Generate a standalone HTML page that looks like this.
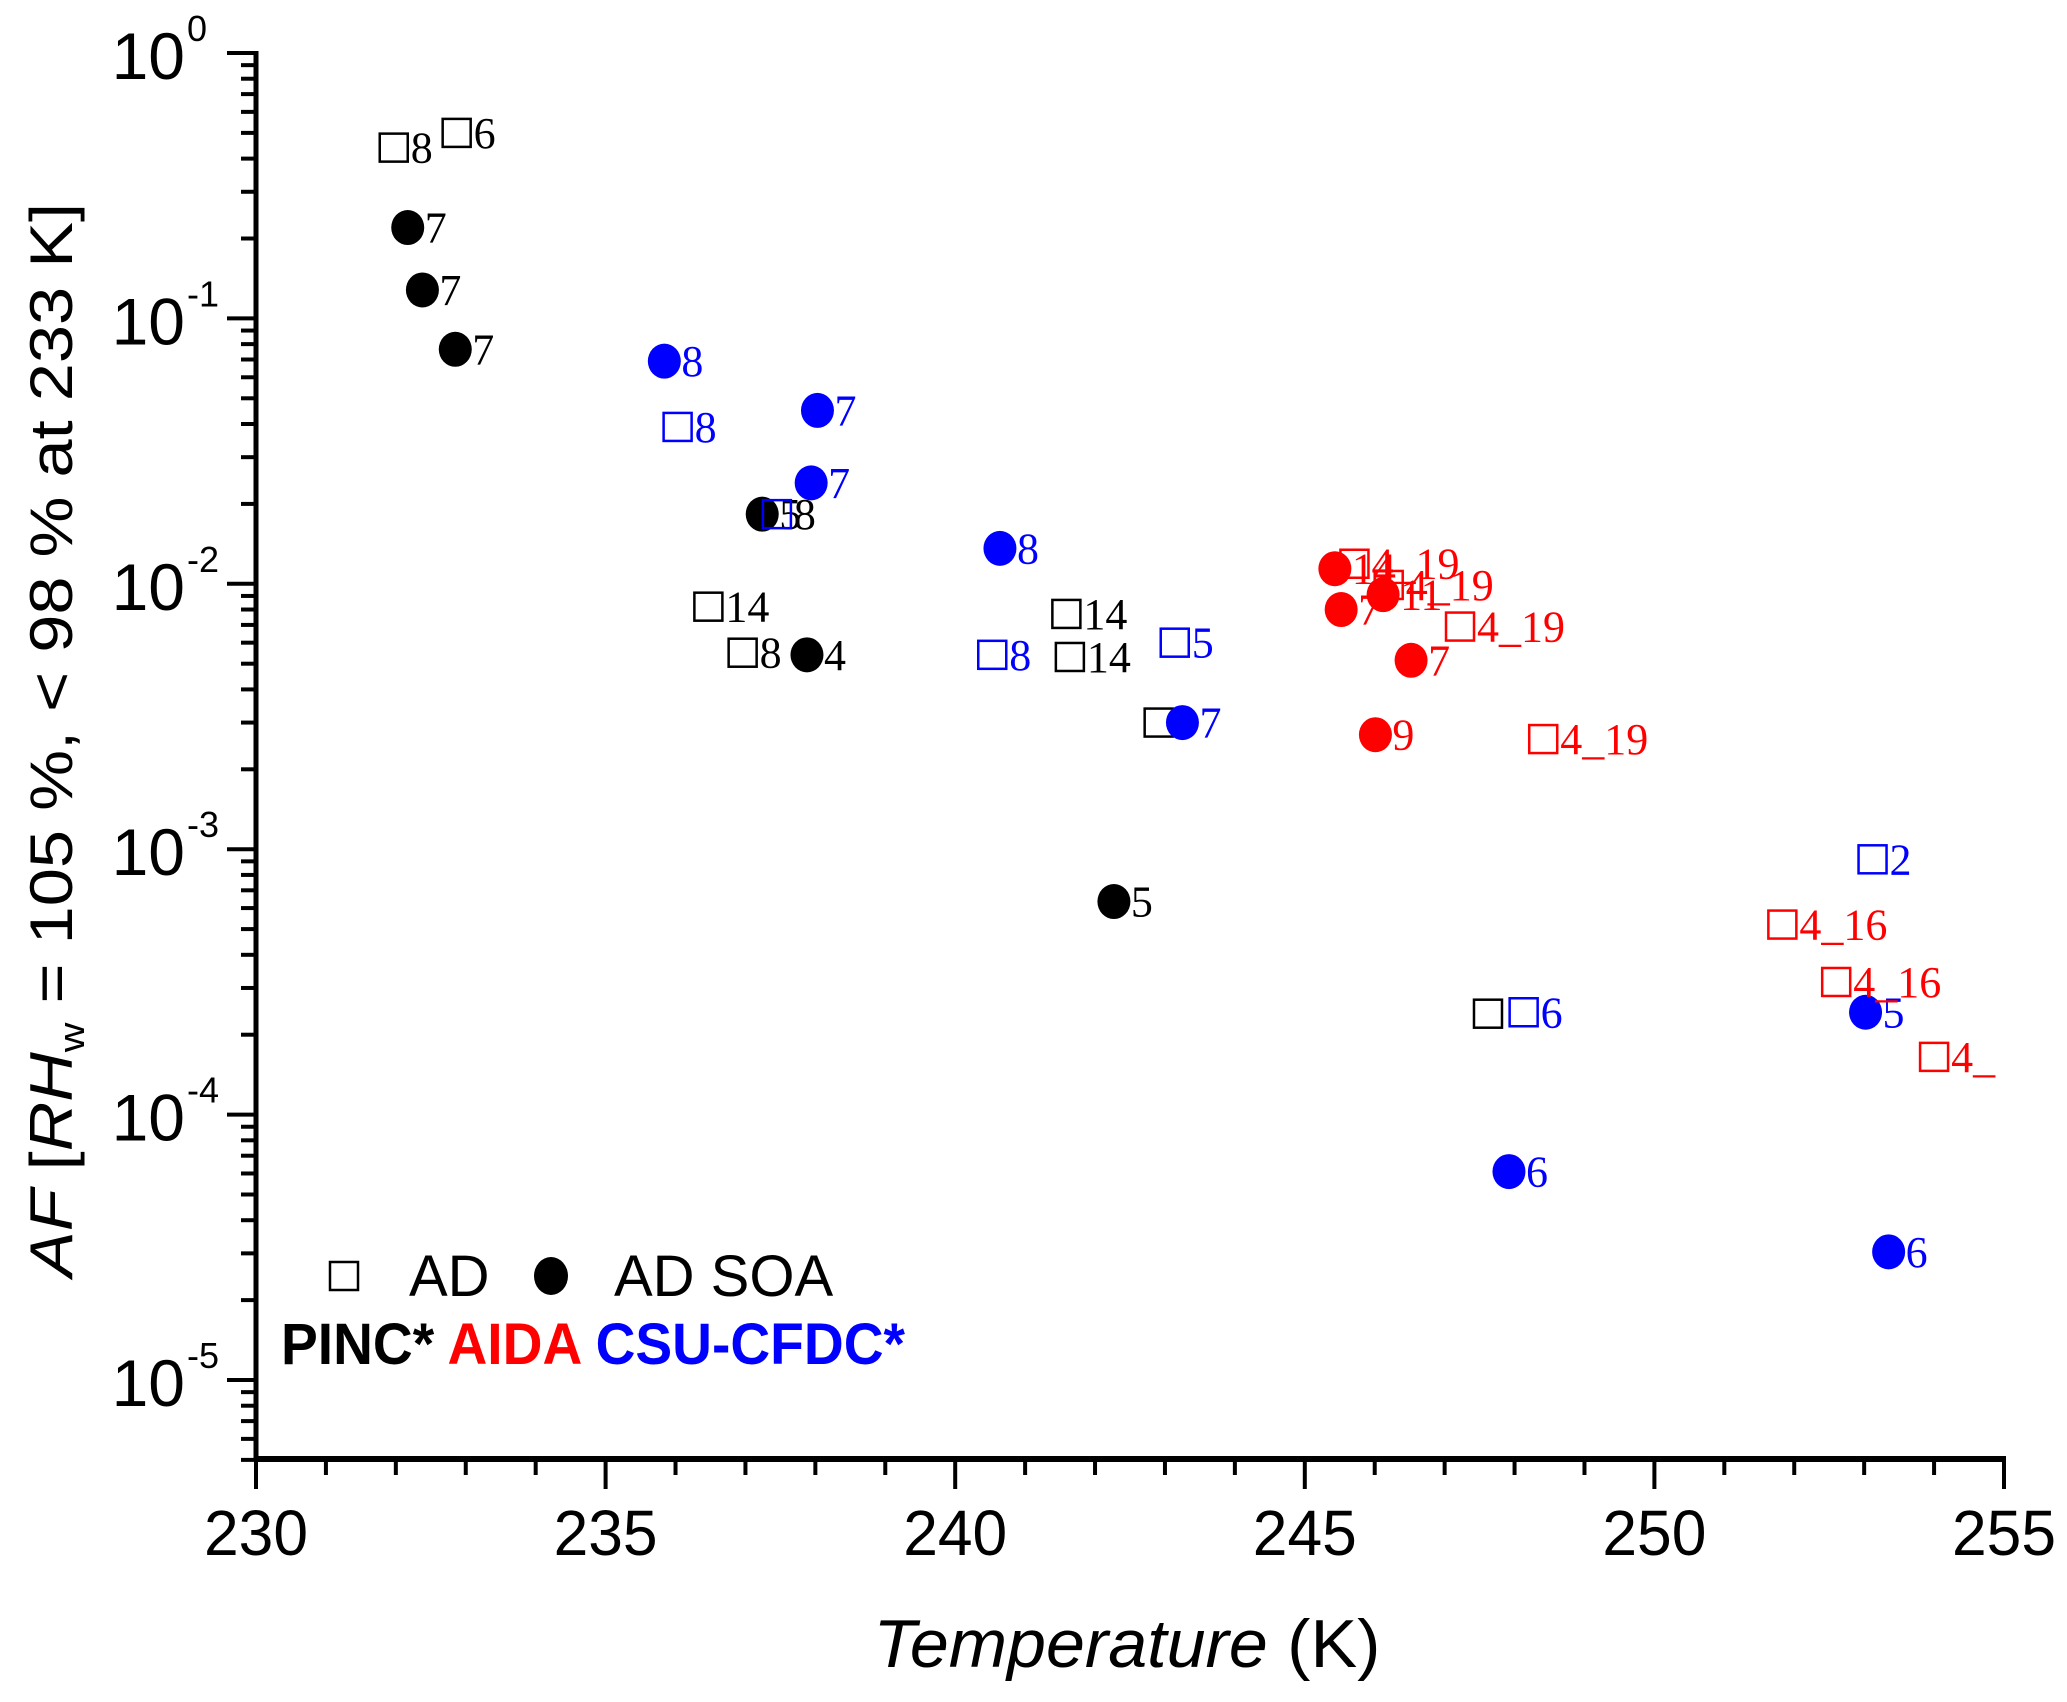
<!DOCTYPE html>
<html><head><meta charset="utf-8"><style>
html,body{margin:0;padding:0;background:#fff;}
svg{display:block;}
</style></head><body>
<svg id="chart" width="2067" height="1702" viewBox="0 0 2067 1702" xmlns="http://www.w3.org/2000/svg">
<g id="axes"></g>
<g id="marks"></g>
<g id="legend">
  <rect x="330" y="1262" width="28" height="28" fill="none" stroke="#000" stroke-width="2.5"/>
  <text x="409" y="1296" font-family="Liberation Sans, sans-serif" font-size="58">AD</text>
  <ellipse cx="551" cy="1276" rx="17" ry="19" fill="#000"/>
  <text x="614" y="1296" font-family="Liberation Sans, sans-serif" font-size="58">AD SOA</text>
  <text x="281" y="1364" font-family="Liberation Sans, sans-serif" font-size="58" font-weight="bold" textLength="624" lengthAdjust="spacingAndGlyphs"><tspan fill="#000">PINC* </tspan><tspan fill="#ff0000">AIDA </tspan><tspan fill="#0000ff">CSU-CFDC*</tspan></text>
</g>
<text x="1127" y="1667" text-anchor="middle" font-family="Liberation Sans, sans-serif" font-size="68" textLength="507" lengthAdjust="spacingAndGlyphs"><tspan font-style="italic">Temperature</tspan> (K)</text>
<text transform="translate(72,740) rotate(-90)" text-anchor="middle" font-family="Liberation Sans, sans-serif" font-size="60" textLength="1074" lengthAdjust="spacingAndGlyphs"><tspan font-style="italic">AF</tspan> [<tspan font-style="italic">RH</tspan><tspan font-size="36" dy="12">w</tspan><tspan dy="-12"> = 105 %, &lt; 98 % at 233 K]</tspan></text>
</svg>
<script>
const xTicks = [230, 235, 240, 245, 250, 255];
const yDecades = [0, -1, -2, -3, -4, -5];
// series: temperature (K), AF value, label
const pincAdT   = [231.97, 232.87, 236.47, 236.96, 241.59, 241.64, 242.91, 247.62];
const pincAdV   = [0.44, 0.50, 0.0082, 0.0055, 0.0077, 0.0053, 0.0030, 0.00024];
const pincAdL   = ['8', '6', '14', '8', '14', '14', '', ''];
const pincSoaT  = [232.17, 232.38, 232.85, 237.24, 237.88, 242.27];
const pincSoaV  = [0.22, 0.128, 0.0765, 0.0183, 0.0054, 0.000635];
const pincSoaL  = ['7', '7', '7', '5', '4', '5'];
const csuAdT    = [236.03, 237.45, 240.53, 243.14, 248.13, 253.12];
const csuAdV    = [0.039, 0.0183, 0.0054, 0.0060, 0.000243, 0.000916];
const csuAdL    = ['8', '8', '8', '5', '6', '2'];
const csuSoaT   = [235.84, 238.03, 237.94, 240.64, 243.25, 247.92, 253.02, 253.35];
const csuSoaV   = [0.069, 0.045, 0.024, 0.0136, 0.0030, 0.000061, 0.000243, 0.0000304];
const csuSoaL   = ['8', '7', '7', '8', '7', '6', '5', '6'];
const aidaAdT   = [245.71, 246.20, 247.22, 248.41, 251.83, 252.60, 254.00];
const aidaAdV   = [0.0119, 0.0099, 0.0069, 0.0026, 0.00052, 0.000316, 0.000165];
const aidaAdL   = ['4_19', '4_19', '4_19', '4_19', '4_16', '4_16', '4_'];
const aidaSoaT  = [245.43, 245.52, 246.12, 246.52, 246.01];
const aidaSoaV  = [0.0114, 0.0080, 0.0091, 0.00515, 0.0027];
const aidaSoaL  = ['14', '7', '11', '7', '9'];

const NS = 'http://www.w3.org/2000/svg';
const X0 = 256, X1 = 2004, XMIN = 230, XMAX = 255;
const YTOP = 53, DEC = 265.4, YBOT = 1459;
function xs(t){ return X0 + (t - XMIN) / (XMAX - XMIN) * (X1 - X0); }
function ys(v){ return YTOP - Math.log10(v) * DEC; }
function mk(tag, attrs, parent){ const e = document.createElementNS(NS, tag); for (const k in attrs) e.setAttribute(k, attrs[k]); parent.appendChild(e); return e; }
const axes = document.getElementById('axes');
const marks = document.getElementById('marks');

let l = mk('line', {x1: X0, y1: YTOP - 2, x2: X0, y2: YBOT + 2, stroke: '#000', 'stroke-width': 5}, axes);


l = mk('line', {x1: X0 - 2, y1: YBOT, x2: X1 + 2, y2: YBOT, stroke: '#000', 'stroke-width': 6}, axes);



for (let t = XMIN; t <= XMAX; t++) {
  const major = xTicks.includes(t);
  const tk = mk('line', {x1: xs(t), y1: YBOT, x2: xs(t), y2: YBOT + (major ? 30 : 16), stroke: '#000', 'stroke-width': 4}, axes);
  
  
}
xTicks.forEach(t => {
  const tx = mk('text', {x: xs(t), y: 1555, 'text-anchor': 'middle', 'font-family': 'Liberation Sans, sans-serif', 'font-size': 64, textLength: 104, lengthAdjust: 'spacingAndGlyphs'}, axes);
  tx.textContent = String(t);
  
  
});
for (let d = -6; d <= 0; d++) {
  for (let m = 1; m <= 9; m++) {
    const v = m * Math.pow(10, d);
    const y = ys(v);
    if (y > YBOT + 1 || y < YTOP - 1) continue;
    const tk = mk('line', {x1: X0, y1: y, x2: X0 - (m === 1 ? 29 : 15), y2: y, stroke: '#000', 'stroke-width': 4}, axes);
    
    
  }
}
yDecades.forEach(d => {
  const y = ys(Math.pow(10, d));
  const tx = mk('text', {x: 185, y: y + 26, 'text-anchor': 'end', 'font-family': 'Liberation Sans, sans-serif', 'font-size': 66}, axes);
  tx.textContent = '10';
  
  
  const sp = mk('text', {x: 187, y: y - 12, 'font-family': 'Liberation Sans, sans-serif', 'font-size': 36}, axes);
  sp.textContent = String(d);
  
  
});

function drawSeries(T, V, L, color, shape, name, labelColors) {
  T.forEach((t, i) => {
    const cx = xs(t), cy = ys(V[i]);
    let m;
    if (shape === 'square') {
      m = mk('rect', {x: cx - 14, y: cy - 14, width: 28, height: 28, fill: 'none', stroke: color, 'stroke-width': 2.5}, marks);
    } else {
      m = mk('ellipse', {cx: cx, cy: cy, rx: 16.5, ry: 17.5, fill: color}, marks);
    }
    
    
    if (L[i]) {
      const tx = mk('text', {x: cx + 17, y: cy + 15, fill: (labelColors && labelColors[i]) || color, 'font-family': 'Liberation Serif, serif', 'font-size': 44}, marks);
      tx.textContent = L[i];
      
      
    }
  });
}
drawSeries(pincAdT, pincAdV, pincAdL, '#000', 'square', 'pinc-ad');
drawSeries(pincSoaT, pincSoaV, pincSoaL, '#000', 'circle', 'pinc-ad-soa');
drawSeries(csuAdT, csuAdV, csuAdL, '#0000ff', 'square', 'csu-ad', [null, '#000']);
drawSeries(csuSoaT, csuSoaV, csuSoaL, '#0000ff', 'circle', 'csu-ad-soa');
drawSeries(aidaAdT, aidaAdV, aidaAdL, '#ff0000', 'square', 'aida-ad');
drawSeries(aidaSoaT, aidaSoaV, aidaSoaL, '#ff0000', 'circle', 'aida-ad-soa');
</script>
</body></html>
